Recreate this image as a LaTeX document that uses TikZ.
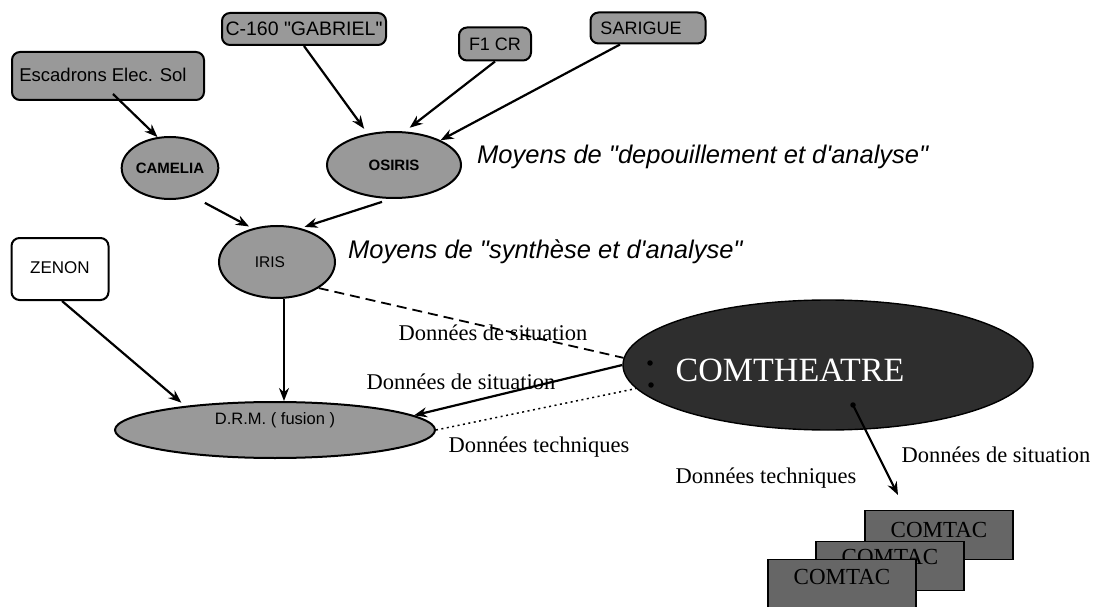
\documentclass[tikz,border=0pt]{standalone}
\usepackage{fontspec}
\setmainfont{Liberation Serif}
\newfontfamily\arial{Liberation Sans}
\newfontfamily\tnr{Liberation Serif}
\usetikzlibrary{shapes.geometric,arrows.meta,calc}
\begin{document}
\begin{tikzpicture}[x=1pt,y=-1pt,
  lbox/.style={draw, line width=2pt, rounded corners=8pt, fill=black!40, font=\arial\fontsize{18}{18}\selectfont, inner sep=0pt},
  wbox/.style={lbox, fill=white},
  lell/.style={ellipse, draw, line width=2pt, fill=black!40, inner sep=0pt, font=\arial\fontsize{15.5}{15.5}\selectfont},
  bell/.style={lell, font=\arial\bfseries\fontsize{15}{15}\selectfont},
  arr/.style={-{Stealth[length=13pt,width=10pt]}, line width=2.2pt},
  lab/.style={font=\tnr\fontsize{22.5}{22.5}\selectfont, inner sep=0pt},
  captext/.style={font=\arial\itshape\fontsize{25.5}{25.5}\selectfont, inner sep=0pt, anchor=west},
  dotm/.style={circle, fill=black, inner sep=0pt, minimum size=5.5pt},
  ctac/.style={draw, line width=1.4pt, fill=black!60, minimum width=148pt, minimum height=49pt, inner sep=0pt, font=\tnr\fontsize{23}{23}\selectfont}
]
\useasboundingbox (0,0) rectangle (1096,607);
% top sources
\node[lbox, minimum width=192pt, minimum height=48pt, font=\arial\fontsize{18.5}{18.5}\selectfont] (esc) at (108,76) {\raisebox{3pt}{Escadrons Elec. Sol}\hspace*{10pt}};
\node[lbox, minimum width=164pt, minimum height=32pt, font=\arial\fontsize{19.5}{19.5}\selectfont] (c160) at (304,29) {C-160 "GABRIEL"};
\node[lbox, minimum width=72pt, minimum height=33pt] (f1) at (495,44) {F1 CR};
\node[lbox, minimum width=115pt, minimum height=31pt] (sar) at (648,28) {SARIGUE\hspace*{14pt}};
% analysis
\node[bell, minimum width=96pt, minimum height=62pt] (cam) at (170,168) {CAMELIA};
\node[bell, minimum width=134pt, minimum height=66pt] (osi) at (394,165) {OSIRIS};
\node[captext] (m1) at (477,157) {Moyens de "depouillement et d'analyse"};
\node[lell, minimum width=116pt, minimum height=72pt] (iri) at (277,262) {\hspace*{-14pt}IRIS};
\node[captext] (m2) at (348,252) {Moyens de "synthèse et d'analyse"};
\node[wbox, minimum width=97pt, minimum height=62pt, font=\arial\fontsize{17}{17}\selectfont] (zen) at (60,269) {\raisebox{3pt}{ZENON}};
\node[lell, minimum width=320pt, minimum height=56pt, font=\arial\fontsize{16.5}{16.5}\selectfont] (drm) at (275,430) {\smash{\raisebox{6pt}{D.R.M. ( fusion )}}};
% COMTHEATRE
\node[ellipse, draw, line width=1.4pt, fill=black!82, minimum width=410pt, minimum height=130pt, inner sep=0pt] (cmt) at (828,365) {};
\node[text=white, font=\tnr\fontsize{34}{34}\selectfont, inner sep=0pt] (cmtl) at (790,370) {COMTHEATRE};
\node[dotm] (dt1) at (650,363) {};
\node[dotm] (dt2) at (651,385) {};
\node[dotm] (dt3) at (853,405) {};
% labels
\node[lab] (l1) at (493,333) {Données de situation};
\node[lab] (l2) at (461,382) {Données de situation};
\node[lab] (l3) at (539,447) {Données techniques};
\node[lab] (l4) at (766,478) {Données techniques};
\node[lab] (l5) at (996,455) {Données de situation};
% COMTAC
\node[ctac] (t1) at (939,535) {\smash{\raisebox{-2pt}{COMTAC}}};
\node[ctac] (t2) at (890,566) {\smash{\raisebox{2pt}{COMTAC}}};
\node[ctac] (t3) at (842,584) {\smash{\raisebox{0pt}{COMTAC}}};
\coordinate (tip) at (898,495);
% connectors
\draw[arr] ([shift={(5,-7)}]esc.south) -- (cam.112);
\draw[arr, shorten >=6pt] (c160.south) -- (osi.130);
\draw[arr, shorten >=6pt] (f1.south) -- (osi.72);
\draw[arr] ([xshift=-28pt]sar.south) -- (osi.28);
\draw[arr, shorten >=4pt] ([shift={(8,8)}]cam.-45) -- (iri.126);
\draw[arr, shorten >=4pt] ([shift={(-6,3)}]osi.-100) -- (iri.55);
\draw[arr, line width=1.8pt] ([xshift=7pt]iri.south) -- ([xshift=7pt]iri.south |- drm.north);
\draw[arr, shorten >=5pt] ([xshift=2pt]zen.south) -- (drm.165);
\draw[line width=1.8pt, dash pattern=on 10pt off 6pt] (iri.-32) -- (cmt.178);
\draw[arr] (cmt.180) -- (drm.6);
\draw[line width=1.5pt, dash pattern=on 2pt off 3.5pt] (drm.east) -- (cmt.187);
\draw[arr] (dt3.center) -- (tip);
\end{tikzpicture}
\end{document}
